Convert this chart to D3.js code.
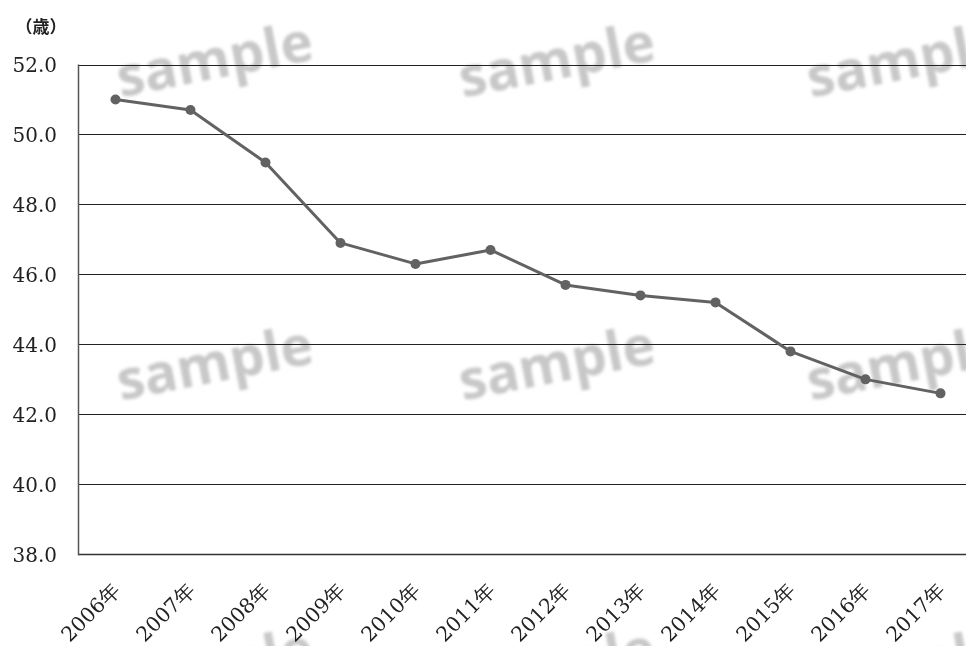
<!DOCTYPE html>
<html>
<head>
<meta charset="utf-8">
<script src="https://cdn.jsdelivr.net/npm/d3@7"></script>
<style>
  html, body { margin: 0; padding: 0; background: #fff; }
  svg { display: block; }
</style>
</head>
<body>
<svg id="chart" width="966" height="646"></svg>
<script>
// Average age by year
const years = ["2006年","2007年","2008年","2009年","2010年","2011年","2012年","2013年","2014年","2015年","2016年","2017年"];
const ages = [51.0, 50.7, 49.2, 46.9, 46.3, 46.7, 45.7, 45.4, 45.2, 43.8, 43.0, 42.6];
const yTicks = [38, 40, 42, 44, 46, 48, 50, 52];
const unitLabel = "（歳）";
const stampText = "sample";

const svg = d3.select("#chart");
const W = 966, H = 646;
const margin = { left: 78, top: 64.5, bottom: 92 };
const plotBottom = H - margin.bottom + 0.3;

const x = d3.scaleBand().domain(years).range([margin.left, margin.left + 900]).padding(0);
const y = d3.scaleLinear().domain([38, 52]).range([plotBottom, margin.top]);

// Faint repeated stamp in the background
const defs = svg.append("defs");
defs.append("filter").attr("id", "soft")
  .attr("x", "-20%").attr("y", "-40%").attr("width", "140%").attr("height", "180%")
  .append("feGaussianBlur").attr("stdDeviation", 1.8);

const stampCols = [215, 557, 905];
const stampRows = [62, 365, 668];
const stampG = svg.append("g").attr("filter", "url(#soft)");
stampRows.forEach(cy => stampCols.forEach(cx => {
  stampG.append("text")
    .attr("transform", `translate(${cx},${cy}) rotate(-11)`)
    .attr("text-anchor", "middle")
    .attr("dy", "0.3em")
    .attr("font-family", "Open Sans")
    .attr("font-weight", 700)
    .attr("font-size", 55)
    .attr("fill", "#c8c8c8")
    .text(stampText);
}));

// Horizontal grid lines
svg.append("g")
  .selectAll("line")
  .data(yTicks)
  .join("line")
  .attr("x1", margin.left).attr("x2", W)
  .attr("y1", d => Math.round(y(d)) + 0.5).attr("y2", d => Math.round(y(d)) + 0.5)
  .attr("stroke", d => d === 38 ? "#333" : "#222")
  .attr("stroke-width", d => d === 38 ? 1.6 : 1);

// Left axis line
svg.append("line")
  .attr("x1", margin.left + 0.5).attr("x2", margin.left + 0.5)
  .attr("y1", y(52)).attr("y2", y(38) + 1)
  .attr("stroke", "#555").attr("stroke-width", 1.5);

// Y tick labels
const yg = svg.append("g");
yg.selectAll("text")
  .data(yTicks)
  .join("text")
  .attr("x", margin.left - 21)
  .attr("y", d => y(d))
  .attr("dy", "0.36em")
  .attr("text-anchor", "end")
  .attr("font-family", "DejaVu Serif")
  .attr("font-size", 20)
  .attr("fill", "#222")
  .text(d3.format(".1f"));

// X tick labels, rotated
const xg = svg.append("g");
xg.selectAll("text")
  .data(years)
  .join("text")
  .attr("transform", d => `translate(${x(d) + x.bandwidth() / 2 + 6},${plotBottom + 37}) rotate(-45)`)
  .attr("text-anchor", "end")
  .attr("font-family", "DejaVu Serif")
  .attr("font-size", 20.5)
  .attr("fill", "#222")
  .text(d => d);

// Unit label
svg.append("text")
  .attr("x", 41).attr("y", 33)
  .attr("text-anchor", "middle")
  .attr("font-family", "Noto Sans CJK JP")
  .attr("font-weight", 700)
  .attr("font-size", 17)
  .attr("fill", "#222")
  .text(unitLabel);

// Data line and markers
const cx = d => x(d.year) + x.bandwidth() / 2;
const data = years.map((yr, i) => ({ year: yr, value: ages[i] }));
svg.append("path")
  .datum(data)
  .attr("fill", "none")
  .attr("stroke", "#626262")
  .attr("stroke-width", 3)
  .attr("stroke-linejoin", "round")
  .attr("d", d3.line().x(cx).y(d => y(d.value)));

svg.append("g")
  .selectAll("circle")
  .data(data)
  .join("circle")
  .attr("cx", cx)
  .attr("cy", d => y(d.value))
  .attr("r", 5)
  .attr("fill", "#626262");
</script>
</body>
</html>
